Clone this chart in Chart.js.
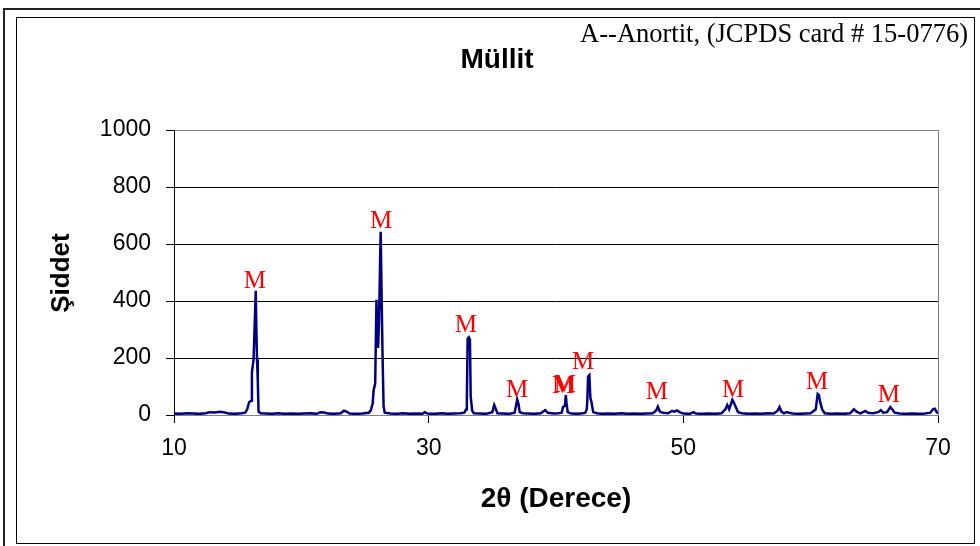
<!DOCTYPE html>
<html>
<head>
<meta charset="utf-8">
<title>Müllit</title>
<script src="https://cdn.jsdelivr.net/npm/chart.js@4.4.1/dist/chart.umd.min.js"></script>
<style>
  html, body { margin: 0; padding: 0; background: #fff; }
  #wrap { position: relative; width: 980px; height: 546px; overflow: hidden; }
  #myChart { position: absolute; left: 0; top: 0; }
  .frame { position: absolute; box-sizing: border-box; pointer-events: none; }
  #outer { left: 3px; top: 8px; width: 990px; height: 560px; border: 2px solid #222; }
  #inner { left: 16px; top: 17px; width: 959px; height: 527px; border: 1px solid #000; }
</style>
</head>
<body>
<div id="wrap">
  <div id="outer" class="frame"></div>
  <div id="inner" class="frame"></div>
  <canvas id="myChart" width="980" height="546"></canvas>
</div>
<script>
// XRD pattern, 2θ in degrees and intensity in counts
const twoTheta = [
  10.0, 10.5, 11.0, 11.5, 12.0, 12.5, 12.8, 13.2, 13.6, 14.0, 14.3, 14.8, 15.3,
  15.6, 15.75, 15.9, 16.05, 16.12, 16.25, 16.42, 16.47, 16.52, 16.58, 16.64, 16.8,
  17.2, 17.7, 18.2, 18.7, 19.2, 19.7, 20.2, 20.7, 21.2, 21.5, 21.8, 22.1, 22.6,
  23.1, 23.35, 23.55, 23.8, 24.3, 24.8, 25.3, 25.45, 25.6, 25.68, 25.8, 25.9,
  25.95, 26.03, 26.1, 26.23, 26.3, 26.38, 26.46, 26.55, 27.0, 27.5, 28.0, 28.5,
  29.0, 29.5, 29.7, 29.9, 30.5, 31.0, 31.5, 32.0, 32.5, 32.8, 32.95, 33.0, 33.06,
  33.16, 33.24, 33.3, 33.42, 33.55, 34.0, 34.5, 35.0, 35.15, 35.3, 35.4, 35.8,
  36.3, 36.75, 36.85, 36.95, 37.05, 37.15, 37.4, 37.8, 38.3, 38.8, 39.0, 39.15,
  39.35, 39.8, 40.2, 40.45, 40.55, 40.7, 40.77, 40.83, 40.92, 41.2, 41.7, 42.1,
  42.3, 42.42, 42.46, 42.52, 42.62, 42.7, 42.8, 42.92, 43.2, 43.6, 44.1, 44.6,
  45.1, 45.6, 46.1, 46.6, 47.1, 47.6, 47.85, 48.0, 48.15, 48.4, 48.8, 49.1, 49.3,
  49.5, 49.7, 50.0, 50.5, 50.8, 51.0, 51.5, 52.0, 52.5, 53.0, 53.3, 53.45, 53.6,
  53.85, 53.95, 54.1, 54.3, 54.6, 55.1, 55.6, 56.1, 56.6, 57.1, 57.4, 57.55, 57.7,
  57.9, 58.1, 58.3, 58.6, 59.1, 59.6, 60.0, 60.4, 60.55, 60.65, 60.75, 60.9, 61.1,
  61.6, 62.1, 62.6, 63.1, 63.4, 63.6, 63.9, 64.3, 64.5, 64.9, 65.3, 65.5, 65.7,
  66.0, 66.25, 66.4, 66.6, 67.0, 67.5, 68.0, 68.5, 69.0, 69.4, 69.6, 69.75, 69.9,
  70.0
];
const intensity = [
  5, 4, 6, 5, 4, 6, 10, 9, 11, 9, 5, 4, 6,
  8, 20, 45, 50, 150, 195, 436, 300, 195, 120, 12, 6,
  5, 4, 6, 4, 5, 4, 5, 6, 4, 10, 9, 5, 4,
  6, 15, 12, 5, 4, 5, 8, 15, 40, 88, 110, 404,
  320, 235, 330, 643, 430, 205, 30, 8, 5, 4, 6, 4,
  5, 4, 10, 5, 4, 6, 4, 5, 6, 8, 20, 60, 268,
  273, 265, 64, 15, 6, 5, 4, 10, 35, 18, 6, 5,
  4, 8, 30, 55, 40, 10, 6, 5, 4, 6, 12, 17,
  8, 5, 6, 8, 28, 32, 70, 40, 10, 5, 4, 6,
  8, 20, 53, 135, 140, 60, 42, 10, 6, 4, 5, 4,
  6, 4, 5, 4, 5, 6, 15, 29, 12, 8, 6, 14, 12,
  16, 10, 5, 4, 10, 5, 4, 5, 4, 6, 20, 35, 20,
  53, 45, 30, 10, 6, 4, 5, 4, 6, 5, 15, 28, 12,
  6, 10, 8, 5, 4, 5, 6, 20, 74, 70, 45, 20, 6,
  4, 5, 4, 6, 20, 12, 6, 14, 8, 6, 10, 17, 8,
  10, 28, 20, 8, 5, 4, 5, 4, 5, 8, 20, 22, 10,
  6
];

const xTicks = [10, 30, 50, 70];
const yTicks = [0, 200, 400, 600, 800, 1000];

// "M" (mullite) markers: 2θ position and intensity of the text baseline
const peakX = [16.36, 26.26, 32.93, 36.94, 40.55, 40.7, 42.12, 47.93, 53.9, 60.5, 66.15];
const peakY = [446, 656, 291, 63, 77, 80, 161, 56, 63, 91, 46];
const peakLabel = "M";

const chartTitle = "Müllit";
const xTitle = "2θ (Derece)";
const yTitle = "Şiddet";
const cardNote = "A--Anortit, (JCPDS card # 15-0776)";

const SANS = '"Liberation Sans", Arial, sans-serif';
const SERIF = '"Liberation Serif", "Times New Roman", serif';

const textPlugin = {
  id: "texts",
  afterDraw(chart) {
    const ctx = chart.ctx;
    const xs = chart.scales.x;
    const ys = chart.scales.y;
    ctx.save();
    ctx.fillStyle = "#000";

    ctx.font = "bold 28px " + SANS;
    ctx.textAlign = "center";
    ctx.textBaseline = "alphabetic";
    ctx.fillText(chartTitle, 497, 68);
    ctx.fillText(xTitle, 556, 507);

    ctx.save();
    ctx.translate(62, 273);
    ctx.rotate(-Math.PI / 2);
    ctx.font = "bold 26px " + SANS;
    ctx.textBaseline = "middle";
    ctx.fillText(yTitle, 0, 0);
    ctx.restore();

    ctx.font = "26.5px " + SERIF;
    ctx.textAlign = "right";
    ctx.fillText(cardNote, 968, 42);

    ctx.font = "25px " + SERIF;
    ctx.textAlign = "center";
    ctx.fillStyle = "#ff0000";
    for (let i = 0; i < peakX.length; i++) {
      ctx.fillText(peakLabel, xs.getPixelForValue(peakX[i]), ys.getPixelForValue(peakY[i]));
    }
    ctx.restore();
  },
};

Chart.defaults.font.family = SANS;
Chart.defaults.color = "#000";

let ctx = document.getElementById("myChart");
new Chart(ctx, {
  type: "line",
  data: {
    datasets: [
      {
        label: chartTitle,
        data: twoTheta.map((t, i) => ({ x: t, y: intensity[i] })),
        borderColor: "#000080",
        borderWidth: 2.5,
        pointRadius: 0,
        tension: 0,
        fill: false,
      },
    ],
  },
  options: {
    responsive: false,
    devicePixelRatio: 1,
    animation: false,
    layout: {
      padding: { top: 130, right: 42, left: 0, bottom: 0 },
    },
    plugins: {
      legend: { display: false },
      tooltip: { enabled: false },
    },
    scales: {
      x: {
        type: "linear",
        min: 10,
        max: 70,
        afterBuildTicks: (scale) => {
          scale.ticks = xTicks.map((v) => ({ value: v }));
        },
        afterFit: (scale) => {
          scale.height = 131;
        },
        ticks: {
          font: { size: 23 },
          color: "#000",
          padding: 12,
          maxRotation: 0,
          callback: (v) => String(v),
        },
        grid: {
          drawOnChartArea: true,
          color: (c) => (c.tick && c.tick.value === 70 ? "#808080" : "rgba(0,0,0,0)"),
          tickColor: "#000",
          tickLength: 8,
          lineWidth: 1,
        },
        border: { display: true, color: "#808080", width: 1 },
      },
      y: {
        min: 0,
        max: 1000,
        afterBuildTicks: (scale) => {
          scale.ticks = yTicks.map((v) => ({ value: v }));
        },
        afterFit: (scale) => {
          scale.width = 174;
        },
        ticks: {
          font: { size: 23 },
          color: "#000",
          padding: 15,
          callback: (v) => String(v),
        },
        grid: {
          color: (c) => (c.tick && (c.tick.value === 0 || c.tick.value === 1000) ? "#808080" : "#000"),
          tickColor: "#000",
          tickLength: 8,
          lineWidth: 1,
        },
        border: { display: true, color: "#000", width: 1 },
      },
    },
  },
  plugins: [textPlugin],
});
</script>
</body>
</html>
